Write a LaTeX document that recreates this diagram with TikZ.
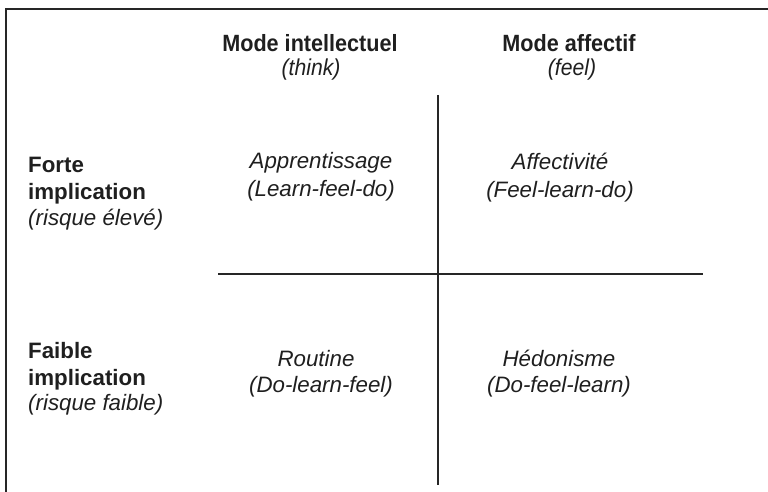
\documentclass[tikz,border=0pt]{standalone}
\usepackage{fontspec}
\setmainfont{Liberation Sans}
\newfontfamily\headfont[FakeStretch=0.92]{Liberation Sans}
\begin{document}
\begin{tikzpicture}[x=1pt,y=-1pt,
  txt/.style={inner sep=0pt, anchor=base, text=black!88, font=\fontsize{22}{26}\selectfont},
  boldtxt/.style={txt, font=\fontsize{22.3}{26}\selectfont\bfseries},
  italtxt/.style={txt, font=\fontsize{22.3}{26}\selectfont\itshape},
  headtxt/.style={txt, font=\headfont\fontsize{23.5}{26}\selectfont\bfseries},
  headsub/.style={txt, font=\headfont\fontsize{23}{26}\selectfont\itshape},
  rowlbl/.style={anchor=base west},
  rule/.style={line width=1.2pt, draw=black!85}]
\useasboundingbox (0,0) rectangle (768,492);
% frame
\coordinate (tl) at (6,9);
\coordinate (tr) at (768,9);
\coordinate (bl) at (6,492);
\draw[rule] (bl) -- (tl) -- (tr);
% dividers
\coordinate (vt) at (438,95);
\coordinate (vb) at (438,485);
\coordinate (hl) at (218,274);
\coordinate (hr) at (703,274);
\draw[rule] (vt) -- (vb);
\draw[rule] (hl) -- (hr);
% column headers
\node[headtxt] (h1) at (310,52) {Mode intellectuel};
\node[headsub] (h1s) at (311,76) {(think)};
\node[headtxt] (h2) at (569,52) {Mode affectif};
\node[headsub] (h2s) at (572,76) {(feel)};
% row labels
\node[boldtxt,rowlbl] (r1a) at (28,172) {Forte};
\node[boldtxt,rowlbl] (r1b) at (28,199) {implication};
\node[italtxt,rowlbl] (r1c) at (28,225) {(risque élevé)};
\node[boldtxt,rowlbl] (r2a) at (28,358) {Faible};
\node[boldtxt,rowlbl] (r2b) at (28,385) {implication};
\node[italtxt,rowlbl] (r2c) at (28,410) {(risque faible)};
% cells
\node[italtxt] (c1a) at (321,168) {Apprentissage};
\node[italtxt] (c1b) at (321,196) {(Learn-feel-do)};
\node[italtxt] (c2a) at (560,169) {Affectivité};
\node[italtxt] (c2b) at (560,197) {(Feel-learn-do)};
\node[italtxt] (c3a) at (316,366) {Routine};
\node[italtxt] (c3b) at (321,392) {(Do-learn-feel)};
\node[italtxt] (c4a) at (559,366) {Hédonisme};
\node[italtxt] (c4b) at (559,392) {(Do-feel-learn)};
\end{tikzpicture}
\end{document}
